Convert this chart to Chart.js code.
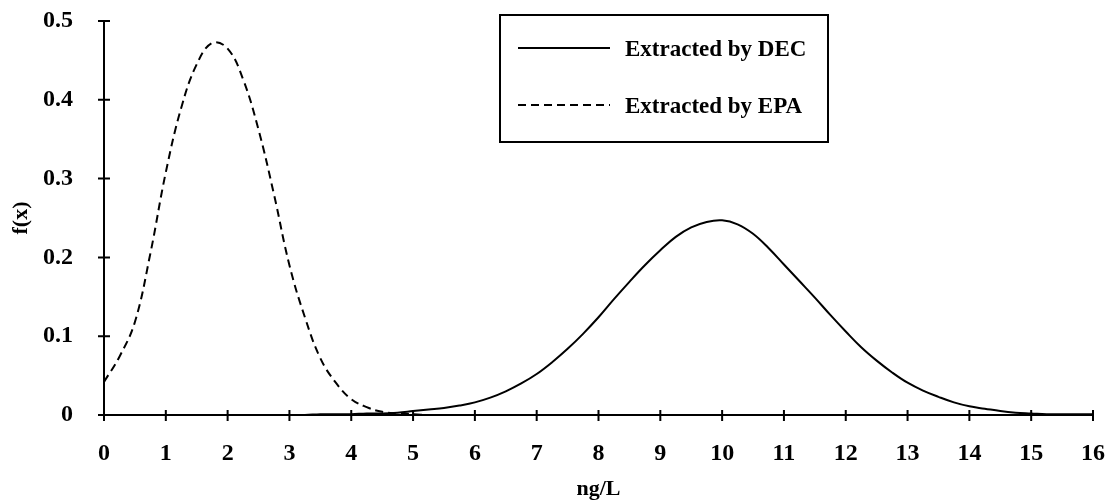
<!DOCTYPE html>
<html>
<head>
<meta charset="utf-8">
<script src="https://cdn.jsdelivr.net/npm/chart.js@4"></script>
<style>
  body { margin: 0; background: #fff; }
</style>
</head>
<body>
<canvas id="myChart" width="1106" height="500"></canvas>
<script>
// datos (paso 0.25 ng/L)
var xValues = [
  0, 0.25, 0.5, 0.75, 1, 1.25, 1.5, 1.75, 2, 2.25, 2.5, 2.75, 3, 3.25, 3.5, 3.75,
  4, 4.25, 4.5, 4.75, 5, 5.25, 5.5, 5.75, 6, 6.25, 6.5, 6.75, 7, 7.25, 7.5, 7.75,
  8, 8.25, 8.5, 8.75, 9, 9.25, 9.5, 9.75, 10, 10.25, 10.5, 10.75, 11, 11.25, 11.5, 11.75,
  12, 12.25, 12.5, 12.75, 13, 13.25, 13.5, 13.75, 14, 14.25, 14.5, 14.75, 15, 15.25, 15.5, 15.75,
  16,
];
var decValues = [
  0, 0, 0, 0, 0, 0, 0, 0, 0, 0, 0, 0, 0, 0, 0.001, 0.001,
  0.001, 0.002, 0.002, 0.003, 0.005, 0.007, 0.009, 0.012, 0.016, 0.022, 0.03, 0.04, 0.052, 0.067, 0.084, 0.103,
  0.124, 0.147, 0.169, 0.19, 0.209, 0.226, 0.238, 0.245, 0.247, 0.242, 0.23, 0.212, 0.191, 0.17, 0.149, 0.127,
  0.106, 0.086, 0.069, 0.054, 0.041, 0.031, 0.023, 0.016, 0.011, 0.008, 0.005, 0.003, 0.002, 0.001, 0.001, 0.001,
  0.001,
];
var epaValues = [
  0.042, 0.074, 0.118, 0.205, 0.308, 0.39, 0.445, 0.472, 0.465, 0.426, 0.362, 0.28, 0.19, 0.124, 0.072, 0.041,
  0.02, 0.01, 0.004, 0.002, 0.001, 0, 0, 0, 0, 0, 0, 0, 0, 0, 0, 0,
  0, 0, 0, 0, 0, 0, 0, 0, 0, 0, 0, 0, 0, 0, 0, 0,
  0, 0, 0, 0, 0, 0, 0, 0, 0, 0, 0, 0, 0, 0, 0, 0,
  0,
];
var seriesNames = ["Extracted by DEC", "Extracted by EPA"];
var xTitle = "ng/L";
var yTitle = "f(x)";

var fontFamily = '"Liberation Serif", "Times New Roman", serif';

function toPoints(values) {
  return values.map(function (v, i) {
    return { x: xValues[i], y: v };
  });
}

// marcas de los ejes que cruzan la linea del eje
var crossTicks = {
  id: "crossTicks",
  afterDraw: function (chart) {
    var ctx = chart.ctx;
    var area = chart.chartArea;
    var xs = chart.scales.x;
    var ys = chart.scales.y;
    ctx.save();
    ctx.strokeStyle = "#000";
    ctx.lineWidth = 2;
    ctx.beginPath();
    xs.ticks.forEach(function (t) {
      var px = xs.getPixelForValue(t.value);
      ctx.moveTo(px, area.bottom - 5);
      ctx.lineTo(px, area.bottom + 6);
    });
    ys.ticks.forEach(function (t) {
      var py = ys.getPixelForValue(t.value);
      ctx.moveTo(area.left - 6, py);
      ctx.lineTo(area.left + 6, py);
    });
    ctx.stroke();
    ctx.restore();
  },
};

// leyenda en recuadro dentro del area
var boxLegend = {
  id: "boxLegend",
  afterDraw: function (chart) {
    var ctx = chart.ctx;
    var left = 500, top = 15, w = 328, h = 127;
    ctx.save();
    ctx.fillStyle = "#fff";
    ctx.fillRect(left, top, w, h);
    ctx.strokeStyle = "#000";
    ctx.lineWidth = 2;
    ctx.strokeRect(left, top, w, h);
    ctx.font = "bold 23px " + fontFamily;
    ctx.fillStyle = "#000";
    ctx.textBaseline = "middle";
    var rows = [48, 105];
    chart.data.datasets.forEach(function (ds, i) {
      var y = rows[i];
      ctx.setLineDash(ds.borderDash || []);
      ctx.lineWidth = ds.borderWidth;
      ctx.beginPath();
      ctx.moveTo(518, y);
      ctx.lineTo(610, y);
      ctx.stroke();
      ctx.setLineDash([]);
      ctx.fillText(ds.label, 625, y + 2);
    });
    ctx.restore();
  },
};

// las marcas reales las dibuja crossTicks; estas solo dan el hueco
var hiddenGrid = function (len) {
  return {
    display: true,
    drawOnChartArea: false,
    drawTicks: true,
    tickLength: len,
    color: "rgba(0,0,0,0)",
  };
};

var ctx = document.getElementById("myChart").getContext("2d");
var myChart = new Chart(ctx, {
  type: "line",
  data: {
    datasets: [
      {
        label: seriesNames[0],
        data: toPoints(decValues),
        borderColor: "#000",
        borderWidth: 2,
        pointRadius: 0,
        tension: 0.4,
        fill: false,
      },
      {
        label: seriesNames[1],
        data: toPoints(epaValues),
        borderColor: "#000",
        borderWidth: 2,
        borderDash: [8, 5],
        pointRadius: 0,
        tension: 0.4,
        fill: false,
      },
    ],
  },
  options: {
    responsive: false,
    animation: false,
    layout: {
      padding: { left: 0, right: 13, top: 21, bottom: 0 },
    },
    scales: {
      x: {
        type: "linear",
        min: 0,
        max: 16,
        grid: hiddenGrid(24),
        border: { color: "#000", width: 2 },
        ticks: {
          stepSize: 1,
          padding: 0,
          color: "#000",
          font: { family: fontFamily, size: 24, weight: "bold" },
          maxRotation: 0,
        },
        title: {
          display: true,
          text: xTitle,
          color: "#000",
          font: { family: fontFamily, size: 22, weight: "bold", lineHeight: 1 },
          padding: { top: 0, bottom: 0 },
        },
        afterFit: function (scale) {
          scale.height = 85;
        },
      },
      y: {
        min: 0,
        max: 0.5,
        grid: hiddenGrid(31),
        border: { color: "#000", width: 2 },
        ticks: {
          stepSize: 0.1,
          padding: 0,
          color: "#000",
          font: { family: fontFamily, size: 24, weight: "bold" },
        },
        title: {
          display: true,
          text: yTitle,
          color: "#000",
          font: { family: fontFamily, size: 22, weight: "bold" },
          padding: { top: 8, bottom: 0 },
        },
        afterFit: function (scale) {
          scale.width = 104;
        },
      },
    },
    plugins: {
      legend: { display: false },
      tooltip: { enabled: false },
    },
  },
  plugins: [crossTicks, boxLegend],
});
</script>
</body>
</html>
